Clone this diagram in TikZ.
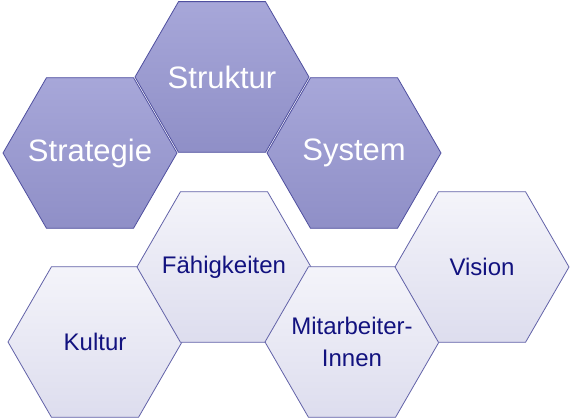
\documentclass[tikz,border=0pt]{standalone}
\usepackage{fontspec}
\setmainfont{Liberation Sans}
\usetikzlibrary{shapes.geometric}
\definecolor{hexdarktop}{HTML}{A7A7D9}
\definecolor{hexdarkbot}{HTML}{8F8FC7}
\definecolor{hexdarkline}{HTML}{4F4F9F}
\definecolor{hexlighttop}{HTML}{F4F4FA}
\definecolor{hexlightbot}{HTML}{DDDDEE}
\definecolor{hexlightline}{HTML}{6262A8}
\definecolor{hextext}{HTML}{12127F}
\tikzset{
  hexbase/.style={regular polygon, regular polygon sides=6, minimum size=174pt,
    inner sep=0pt, outer sep=0pt, line width=0.8pt},
  hexdark/.style={hexbase, draw=hexdarkline, top color=hexdarktop, bottom color=hexdarkbot},
  hexlight/.style={hexbase, draw=hexlightline, top color=hexlighttop, bottom color=hexlightbot},
  darklabel/.style={text=white, align=center, font=\fontsize{31}{34}\selectfont},
  lightlabel/.style={text=hextext, align=center, font=\fontsize{24}{32}\selectfont}
}

\begin{document}
\begin{tikzpicture}[x=1pt,y=1pt]
\useasboundingbox (0,0) rectangle (570,420);
% upper group
\node[hexdark] (strategie) at (90,267) {};
\node[hexdark] (struktur) at (222,343) {};
\node[hexdark] (system) at (354,267) {};
\node[darklabel] at (strategie) {Strategie};
\node[darklabel] at (struktur) {Struktur};
\node[darklabel] at (system) {System};
% lower group
\node[hexlight] (kultur) at (95,78) {};
\node[hexlight] (faehigkeiten) at (224,153) {};
\node[hexlight] (mitarbeiter) at (352,78) {};
\node[hexlight] (vision) at (482,153) {};
\node[lightlabel] at (kultur) {Kultur};
\node[lightlabel] at (faehigkeiten) {Fähigkeiten};
\node[lightlabel] at (mitarbeiter) {Mitarbeiter-\\Innen};
\node[lightlabel] at (vision) {Vision};
\end{tikzpicture}
\end{document}
